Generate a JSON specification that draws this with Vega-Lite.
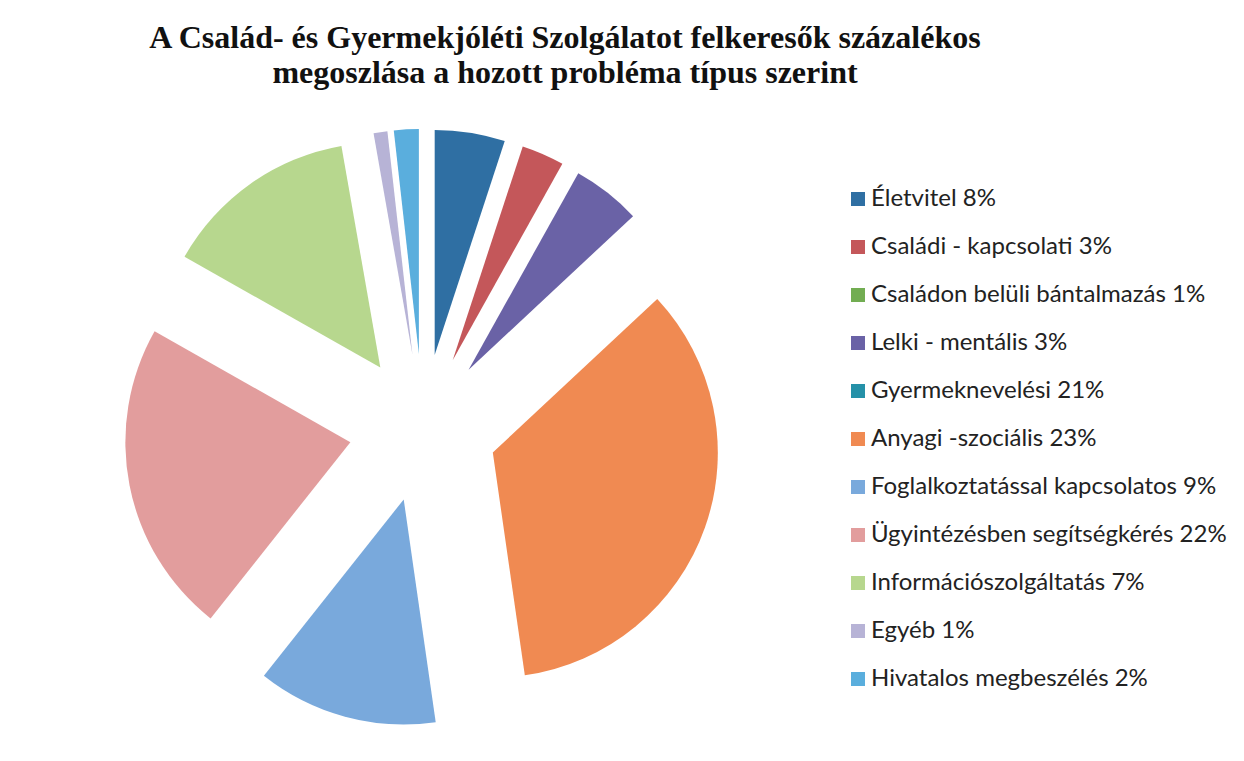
{
  "$schema": "https://vega.github.io/schema/vega-lite/v6.json",
  "width": 846,
  "height": 636,
  "autosize": {"type": "none"},
  "padding": {"left": 0, "top": 110, "right": 398, "bottom": 15},
  "background": "white",
  "config": {"view": {"stroke": null}},
  "title": {
    "text": ["A Család- és Gyermekjóléti Szolgálatot felkeresők százalékos", "megoszlása a hozott probléma típus szerint"],
    "font": "Liberation Serif",
    "fontSize": 32,
    "fontWeight": "bold",
    "color": "#111111",
    "anchor": "middle",
    "dx": 142,
    "lineHeight": 35,
    "offset": 20
  },
  "data": {
    "values": [
      {"n": 1, "kategoria": "Életvitel 8%", "ertek": 5.1},
      {"n": 2, "kategoria": "Családi - kapcsolati 3%", "ertek": 3.1},
      {"n": 3, "kategoria": "Családon belüli bántalmazás 1%", "ertek": 0},
      {"n": 4, "kategoria": "Lelki - mentális 3%", "ertek": 5.0},
      {"n": 5, "kategoria": "Gyermeknevelési 21%", "ertek": 0},
      {"n": 6, "kategoria": "Anyagi -szociális 23%", "ertek": 35.1},
      {"n": 7, "kategoria": "Foglalkoztatással kapcsolatos 9%", "ertek": 13.1},
      {"n": 8, "kategoria": "Ügyintézésben segítségkérés 22%", "ertek": 22.8},
      {"n": 9, "kategoria": "Információszolgáltatás 7%", "ertek": 14.2},
      {"n": 10, "kategoria": "Egyéb 1%", "ertek": 1.0},
      {"n": 11, "kategoria": "Hivatalos megbeszélés 2%", "ertek": 1.8}
    ]
  },
  "mark": {
    "type": "arc",
    "outerRadius": 225,
    "xOffset": {"expr": "74*sin((scale('theta', datum['ertek_start']) + scale('theta', datum['ertek_end']))/2)"},
    "yOffset": {"expr": "-74*cos((scale('theta', datum['ertek_start']) + scale('theta', datum['ertek_end']))/2)"}
  },
  "encoding": {
    "theta": {"field": "ertek", "type": "quantitative", "stack": true},
    "order": {"field": "n", "type": "quantitative"},
    "color": {
      "field": "kategoria",
      "type": "nominal",
      "sort": null,
      "scale": {
        "domain": ["Életvitel 8%", "Családi - kapcsolati 3%", "Családon belüli bántalmazás 1%", "Lelki - mentális 3%", "Gyermeknevelési 21%", "Anyagi -szociális 23%", "Foglalkoztatással kapcsolatos 9%", "Ügyintézésben segítségkérés 22%", "Információszolgáltatás 7%", "Egyéb 1%", "Hivatalos megbeszélés 2%"],
        "range": ["#2f6fa3", "#c4575a", "#72ad52", "#6a62a6", "#2591a8", "#f08a52", "#79a9dc", "#e29d9d", "#b7d78e", "#b7b3d6", "#5aaedd"]
      },
      "legend": {
        "orient": "none",
        "legendX": 846,
        "legendY": 77,
        "title": null,
        "symbolType": "square",
        "symbolSize": 196,
        "symbolStrokeWidth": 0,
        "labelFont": "Lato",
        "labelFontSize": 24,
        "labelColor": "#222222",
        "labelOffset": 1,
        "labelLimit": 0,
        "rowPadding": 24
      }
    }
  }
}
